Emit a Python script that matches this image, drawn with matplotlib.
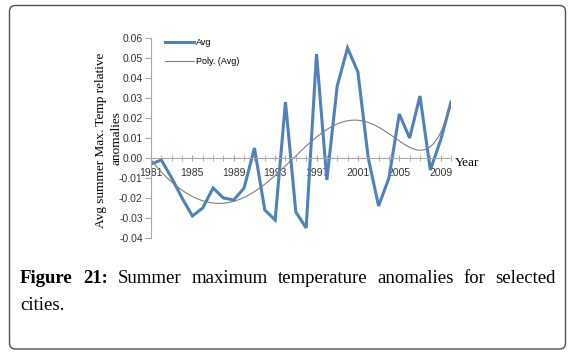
import matplotlib
matplotlib.use('Agg')
import matplotlib.pyplot as plt
from matplotlib.patches import FancyBboxPatch
import numpy as np

years = list(range(1981, 2011))
avg = [-0.003, -0.001, -0.010, -0.020, -0.029, -0.025, -0.015, -0.020, -0.021, -0.015,
       0.005, -0.026, -0.031, 0.028, -0.027, -0.035, 0.052, -0.011, 0.036, 0.055,
       0.043, 0.000, -0.024, -0.010, 0.022, 0.010, 0.031, -0.006, 0.009, 0.028]
y_ticks = [-0.04, -0.03, -0.02, -0.01, 0.00, 0.01, 0.02, 0.03, 0.04, 0.05, 0.06]
x_labels = [1981, 1985, 1989, 1993, 1997, 2001, 2005, 2009]

W, H = 574, 352
fig = plt.figure(figsize=(W / 100, H / 100), dpi=100)

# plot area in pixels: x 151..451, y 38 (0.06) .. 238 (-0.04)
ax = fig.add_axes([151 / W, (H - 238) / H, 300 / W, 200 / H])

x = np.array(years)
ax.plot(x, avg, color="#4F81BD", lw=2.2, label="Avg", solid_joinstyle="miter")

# 6th order polynomial trendline, as Excel "Poly. (Avg)"
t = x - x[0]
coef = np.polyfit(t, avg, 6)
tt = np.linspace(t[0], t[-1], 300)
ax.plot(tt + x[0], np.polyval(coef, tt), color="#7f7f7f", lw=0.8, label="Poly. (Avg)")

ax.set_xlim(1981, 2010)
ax.set_ylim(-0.04, 0.06)
for s in ["top", "right"]:
    ax.spines[s].set_visible(False)
ax.spines["bottom"].set_position(("data", 0))
for s in ["left", "bottom"]:
    ax.spines[s].set_color("#a6a6a6")
    ax.spines[s].set_linewidth(0.8)

ax.set_yticks(y_ticks)
ax.set_yticklabels([f"{v:.2f}" for v in y_ticks], fontsize=7.5,
                   family="Liberation Sans", color="#333333")
ax.tick_params(axis="y", direction="out", length=4, color="#a6a6a6", pad=2)

ax.set_xticks(x_labels)
ax.set_xticklabels([str(v) for v in x_labels], fontsize=7.5,
                   family="Liberation Sans", color="#333333")
ax.set_xticks(years, minor=True)
ax.tick_params(axis="x", which="both", direction="inout", length=5,
               color="#a6a6a6", pad=5)

leg = ax.legend(loc="upper left", bbox_to_anchor=(0.02, 1.04), frameon=False,
                prop={"family": "Liberation Sans", "size": 6.5},
                handlelength=3.2, handletextpad=0.2, labelspacing=1.1)

# y label, two lines as separate texts
fig.text(101 / W, 1 - 140 / H, "Avg summer Max. Temp relative",
         rotation=90, ha="center", va="center",
         family="Liberation Serif", fontsize=9.5)
fig.text(116 / W, 1 - 138 / H, "anomalies",
         rotation=90, ha="center", va="center",
         family="Liberation Serif", fontsize=9.5)
fig.text(455 / W, 1 - 163 / H, "Year", ha="left", va="center",
         family="Liberation Serif", fontsize=9.5)

# caption, justified first line
renderer = fig.canvas.get_renderer()
words = [("Figure", "bold"), ("21:", "bold"), ("Summer", "normal"), ("maximum", "normal"),
         ("temperature", "normal"), ("anomalies", "normal"), ("for", "normal"),
         ("selected", "normal")]
x0, x1 = 20, 556
base1 = H - 283
texts = []
for w, wt in words:
    tx = fig.text(0, 0, w, fontsize=13.5, family="Liberation Serif", weight=wt,
                  transform=None, va="baseline")
    texts.append(tx)
widths = [tx.get_window_extent(renderer).width for tx in texts]
gap = (x1 - x0 - sum(widths)) / (len(words) - 1)
cx = x0
for tx, wd in zip(texts, widths):
    tx.set_position((cx, base1))
    cx += wd + gap
fig.text(20, H - 310, "cities.", fontsize=13.5, family="Liberation Serif",
         transform=None, va="baseline")

box = FancyBboxPatch((9.5, 3), 556, 343.5, boxstyle="round,pad=0,rounding_size=6",
                     transform=None, fill=False, edgecolor="#505050", lw=1.0)
fig.patches.append(box)

fig.savefig("out.png", dpi=100)
